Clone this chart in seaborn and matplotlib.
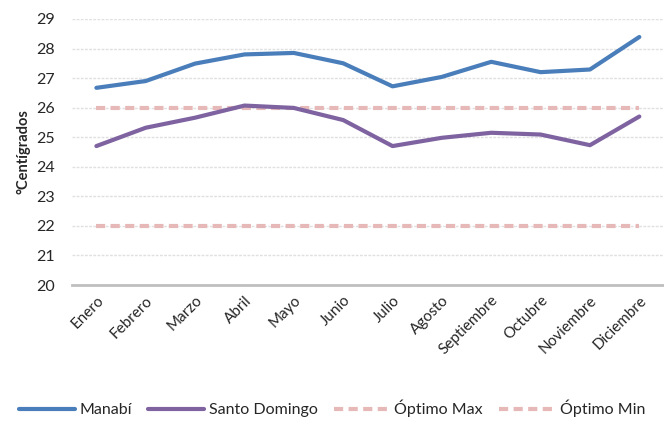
import numpy as np
import pandas as pd
import matplotlib

matplotlib.use('Agg')

import matplotlib.pyplot as plt
import seaborn as sns

sns.set_style("white")
plt.rcParams['font.family'] = ['Lato', 'DejaVu Sans']

meses = ["Enero", "Febrero", "Marzo", "Abril", "Mayo", "Junio", "Julio",
         "Agosto", "Septiembre", "Octubre", "Noviembre", "Diciembre"]
manabi = [26.67, 26.9, 27.49, 27.8, 27.85, 27.5, 26.72, 27.04, 27.55, 27.2, 27.29, 28.39]
santo_domingo = [24.7, 25.32, 25.66, 26.07, 25.99, 25.58, 24.7, 24.98, 25.15, 25.09, 24.73, 25.7]
optimo_max = [26] * 12
optimo_min = [22] * 12

df = pd.DataFrame({"x": range(len(meses)), "Manabí": manabi,
                   "Santo Domingo": santo_domingo,
                   "Óptimo Max": optimo_max, "Óptimo Min": optimo_min})

fig = plt.figure(figsize=(6.64, 4.21), dpi=100)
ax = fig.add_axes([0.108, 0.323, 0.892, 0.632])

for y in range(21, 30):
    ax.axhline(y, color='#e0e0e0', lw=1, ls=(0, (2, 1)), zorder=0)

pink = '#e6b9b8'
sns.lineplot(data=df, x="x", y="Óptimo Max", ax=ax, color=pink, lw=3,
             label="Óptimo Max")
sns.lineplot(data=df, x="x", y="Óptimo Min", ax=ax, color=pink, lw=3,
             label="Óptimo Min")
sns.lineplot(data=df, x="x", y="Manabí", ax=ax, color='#4a7ebb', lw=3, label="Manabí")
sns.lineplot(data=df, x="x", y="Santo Domingo", ax=ax, color='#7f63a1', lw=3,
             label="Santo Domingo")
for ln in ax.lines[-4:-2]:
    ln.set_linestyle((0, (2.2, 1.3)))

ax.set_xlim(-0.5, 11.5)
ax.set_ylim(20, 29)
ax.set_yticks(range(20, 30))
ax.set_xticks(range(len(meses)))
ax.set_xticklabels(meses, rotation=45, ha='right', rotation_mode='anchor', fontsize=11)
ax.tick_params(axis='y', labelsize=11.5, length=0, pad=12)
ax.tick_params(axis='x', length=0, pad=6)
ax.set_xlabel("")
ax.set_ylabel("°Centígrados", fontsize=10.5, fontweight='bold', labelpad=4)
for s in ["top", "right", "left"]:
    ax.spines[s].set_visible(False)
ax.spines["bottom"].set_color('#bfbfbf')
ax.spines["bottom"].set_linewidth(2)

h, l = ax.get_legend_handles_labels()
order = [2, 3, 0, 1]
ax.get_legend().remove()
fig.legend([h[i] for i in order], [l[i] for i in order], loc='lower center',
           bbox_to_anchor=(0.5, -0.025), ncol=4, frameon=False, fontsize=11.5,
           handlelength=3.5, handletextpad=0.3, columnspacing=1.0)

plt.savefig("out.png", dpi=100)
